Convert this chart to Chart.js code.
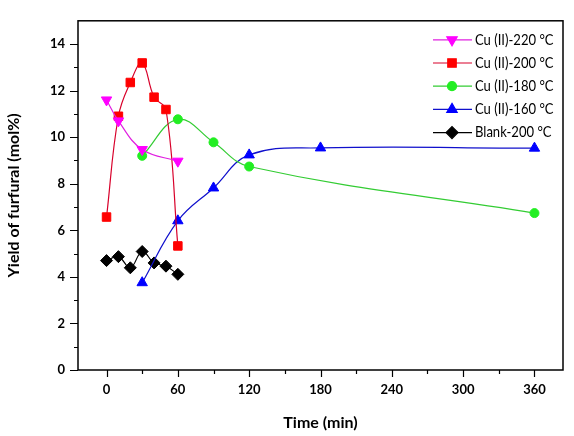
<!DOCTYPE html>
<html>
<head>
<meta charset="utf-8">
<script src="https://cdn.jsdelivr.net/npm/chart.js@4.4.1/dist/chart.umd.min.js"></script>
<style>
  html, body { margin: 0; padding: 0; background: #fff; }
  #wrap { width: 574px; height: 436px; position: relative; }
</style>
</head>
<body>
<div id="wrap"><canvas id="chart"></canvas></div>
<script>
// Yield of furfural (mol%) vs time (min)
const cu220Time = [0, 10, 30, 60];
const cu220Yield = [11.6, 10.7, 9.47, 8.97];

const cu200Time = [0, 10, 20, 30, 40, 50, 60];
const cu200Yield = [6.57, 10.9, 12.35, 13.19, 11.72, 11.19, 5.33];

const cu180Time = [30, 60, 90, 120, 360];
const cu180Yield = [9.2, 10.77, 9.78, 8.74, 6.74];

const cu160Time = [30, 60, 90, 120, 180, 360];
const cu160Yield = [3.75, 6.41, 7.82, 9.24, 9.54, 9.53];

const blankTime = [0, 10, 20, 30, 40, 50, 60];
const blankYield = [4.7, 4.87, 4.39, 5.09, 4.6, 4.46, 4.11];

const xTickLabels = [0, 60, 120, 180, 240, 300, 360];
const xMinorTicks = [30, 90, 150, 210, 270, 330];
const yTickLabels = [0, 2, 4, 6, 8, 10, 12, 14];
const yMinorTicks = [1, 3, 5, 7, 9, 11, 13];

const seriesNames = ['Cu (II)-220 \u00b0C', 'Cu (II)-200 \u00b0C', 'Cu (II)-180 \u00b0C', 'Cu (II)-160 \u00b0C', 'Blank-200 \u00b0C'];

const toPoints = (xs, ys) => xs.map((x, i) => ({ x, y: ys[i] }));

const fontFamily = 'Lato, "Open Sans", "Liberation Sans", sans-serif';

// axis frame, outward major/minor ticks and an in-plot legend
const framePlugin = {
  id: 'frame',
  afterDraw(chart) {
    const { ctx, chartArea: a } = chart;
    const xs = chart.scales.x;
    const ys = chart.scales.y;
    ctx.save();
    ctx.strokeStyle = '#000';
    ctx.lineWidth = 1.5;
    ctx.strokeRect(a.left, a.top, a.right - a.left, a.bottom - a.top);

    ctx.lineWidth = 1.2;
    ctx.beginPath();
    xTickLabels.forEach((v) => {
      const px = Math.round(xs.getPixelForValue(v)) + 0.5;
      ctx.moveTo(px, a.bottom);
      ctx.lineTo(px, a.bottom + 7);
    });
    xMinorTicks.forEach((v) => {
      const px = Math.round(xs.getPixelForValue(v)) + 0.5;
      ctx.moveTo(px, a.bottom);
      ctx.lineTo(px, a.bottom + 4);
    });
    yTickLabels.forEach((v) => {
      const py = Math.round(ys.getPixelForValue(v)) + 0.5;
      ctx.moveTo(a.left, py);
      ctx.lineTo(a.left - 8, py);
    });
    yMinorTicks.forEach((v) => {
      const py = Math.round(ys.getPixelForValue(v)) + 0.5;
      ctx.moveTo(a.left, py);
      ctx.lineTo(a.left - 4, py);
    });
    ctx.stroke();

    // legend
    const x0 = a.right - 130;
    let y = a.top + 19;
    ctx.font = '15px ' + fontFamily;
    ctx.textBaseline = 'middle';
    ctx.textAlign = 'left';
    chart.data.datasets.forEach((ds) => {
      ctx.strokeStyle = ds.borderColor;
      ctx.lineWidth = 1.2;
      ctx.beginPath();
      ctx.moveTo(x0, y);
      ctx.lineTo(x0 + 39, y);
      ctx.stroke();
      ctx.fillStyle = ds.pointBackgroundColor;
      ctx.strokeStyle = ds.pointBackgroundColor;
      Chart.helpers.drawPoint(ctx, {
        pointStyle: ds.pointStyle,
        rotation: ds.pointRotation || 0,
        radius: ds.pointRadius,
        borderWidth: 1,
      }, x0 + 19, y);
      ctx.fillStyle = '#000';
      const w = ctx.measureText(ds.label).width;
      ctx.fillText(ds.label, x0 + 42, y, w * 0.87);
      y += 23.2;
    });
    ctx.restore();
  },
};

const makeSeries = (label, xs, ys, lineColor, markColor, style, radius, rotation) => ({
  label,
  data: toPoints(xs, ys),
  borderColor: lineColor,
  borderWidth: 1.2,
  pointBackgroundColor: markColor,
  pointBorderColor: markColor,
  pointBorderWidth: 1,
  pointStyle: style,
  pointRadius: radius,
  pointRotation: rotation,
  tension: 0.4,
  fill: false,
});

const datasets = [
  makeSeries(seriesNames[0], cu220Time, cu220Yield, '#E020E0', '#FF00FF', 'triangle', 6, 180),
  makeSeries(seriesNames[1], cu200Time, cu200Yield, '#D8002A', '#FF0000', 'rect', 6, 0),
  makeSeries(seriesNames[2], cu180Time, cu180Yield, '#33CC33', '#22EE22', 'circle', 4.5, 0),
  makeSeries(seriesNames[3], cu160Time, cu160Yield, '#1010CC', '#0000FF', 'triangle', 6, 0),
  makeSeries(seriesNames[4], blankTime, blankYield, '#000000', '#000000', 'rectRot', 6, 0),
];

new Chart(document.getElementById('chart'), {
  type: 'line',
  data: { datasets },
  options: {
    responsive: true,
    maintainAspectRatio: false,
    animation: false,
    layout: { padding: { top: 14, right: 11, left: 0, bottom: 0 } },
    plugins: {
      legend: { display: false },
      tooltip: { enabled: false },
    },
    scales: {
      x: {
        type: 'linear',
        min: -24,
        max: 384,
        afterBuildTicks(scale) {
          scale.ticks = xTickLabels.map((v) => ({ value: v }));
        },
        afterFit(scale) {
          scale.height = 66;
        },
        grid: { display: false, drawTicks: false },
        border: { display: false },
        ticks: {
          padding: 12,
          color: '#000',
          maxRotation: 0,
          font: { family: fontFamily, size: 13, weight: 'bold' },
        },
        title: {
          display: true,
          text: 'Time (min)',
          color: '#000',
          padding: { top: 14 },
          font: { family: fontFamily, size: 16, weight: 'bold' },
        },
      },
      y: {
        type: 'linear',
        min: 0,
        max: 15,
        afterBuildTicks(scale) {
          scale.ticks = yTickLabels.map((v) => ({ value: v }));
        },
        afterFit(scale) {
          scale.width = 78;
        },
        grid: { display: false, drawTicks: false },
        border: { display: false },
        ticks: {
          padding: 13,
          color: '#000',
          font: { family: fontFamily, size: 13, weight: 'bold' },
        },
        title: {
          display: true,
          text: 'Yield of furfural (mol%)',
          color: '#000',
          padding: { top: 4, bottom: 0 },
          font: { family: fontFamily, size: 16, weight: 'bold' },
        },
      },
    },
  },
  plugins: [framePlugin],
});
</script>
</body>
</html>
